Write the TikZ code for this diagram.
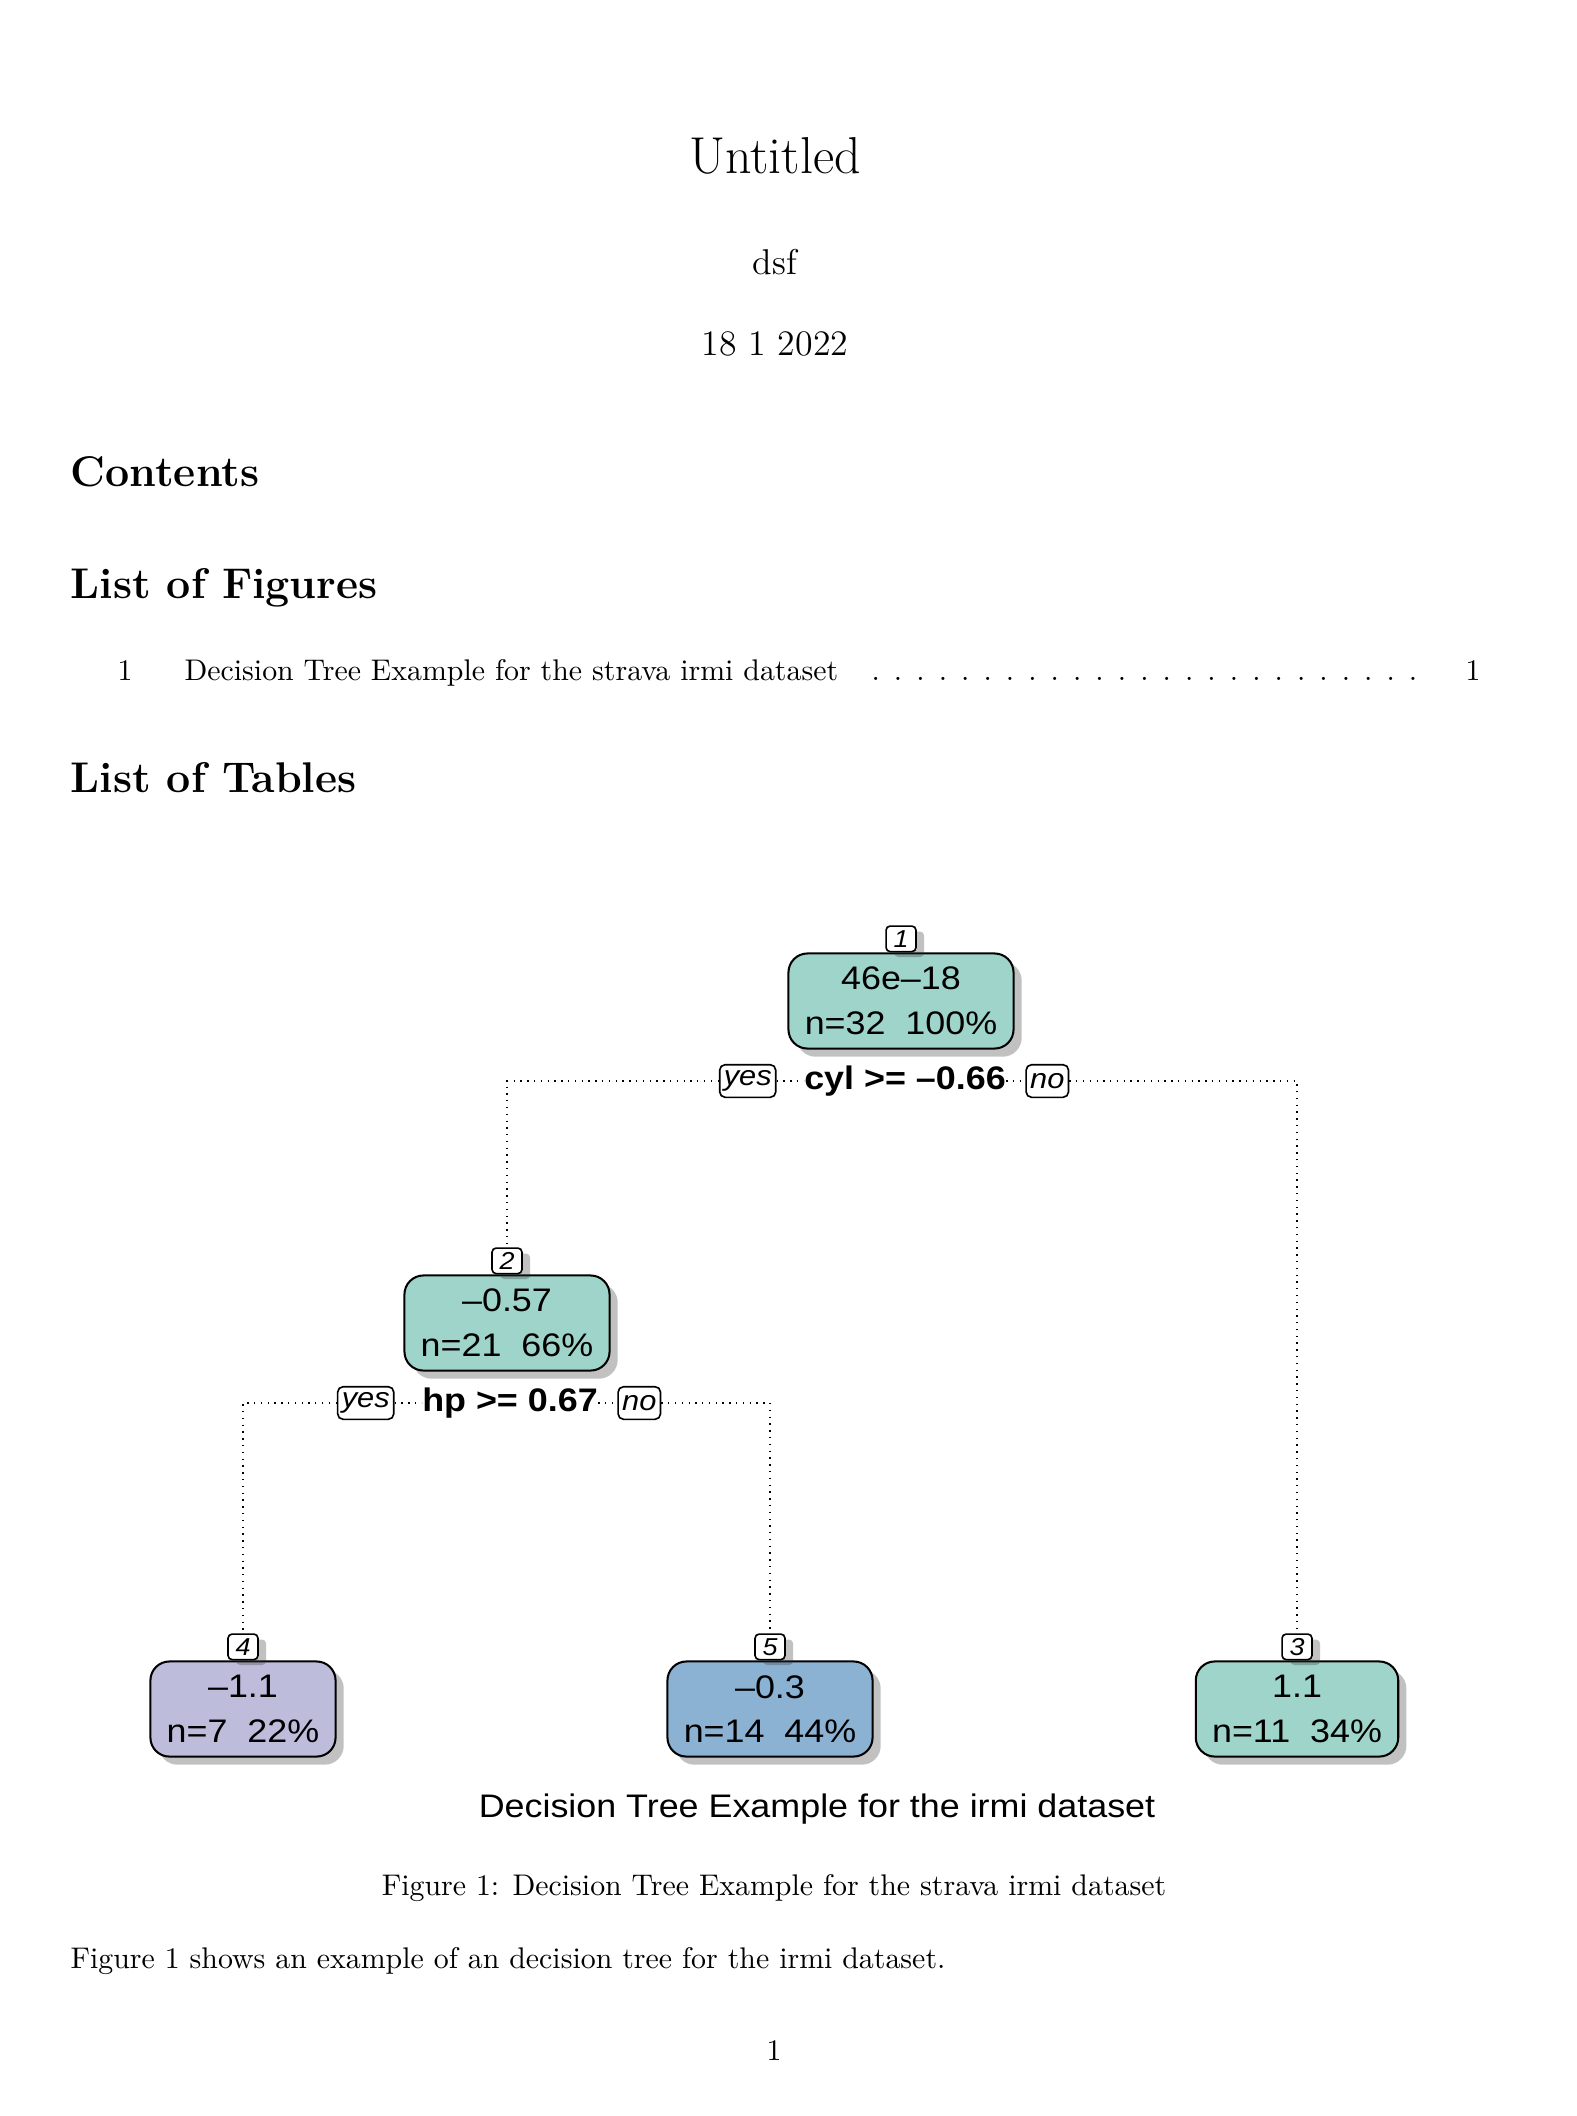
\documentclass[tikz,border=0pt]{standalone}
\usepackage{fontspec}
\newfontfamily\plotfont[FakeStretch=1.1]{Liberation Sans}
\usetikzlibrary{positioning,shadows}

\definecolor{leafteal}{HTML}{9FD4CA}
\definecolor{leaflilac}{HTML}{BDBCDA}
\definecolor{leafblue}{HTML}{8BB1D3}

\begin{document}
\begin{tikzpicture}[
        x=0.368pt,
        y=-0.368pt,
        pagetext/.style={inner sep=0pt, font=\fontsize{10.99}{13.6}\selectfont},
        heading/.style={inner sep=0pt, anchor=base west, font=\fontsize{15.8}{18}\selectfont\bfseries},
        treebox/.style={draw, line width=0.75pt, rounded corners=7pt, align=center,
            minimum height=35pt, inner xsep=6pt,
            font=\plotfont\fontsize{12}{16.4}\selectfont,
            drop shadow={shadow xshift=3pt, shadow yshift=-3pt, opacity=0.3, fill=black!80}},
        numbox/.style={draw, fill=white, line width=0.6pt, rounded corners=1.5pt,
            minimum width=11pt, minimum height=9.4pt, inner sep=1pt,
            font=\plotfont\itshape\fontsize{9}{9}\selectfont,
            drop shadow={shadow xshift=3pt, shadow yshift=-2pt, opacity=0.3, fill=black!80}},
        yesno/.style={draw, fill=white, line width=0.6pt, rounded corners=2pt,
            minimum height=12pt, inner xsep=1.5pt, inner ysep=1pt,
            font=\plotfont\itshape\fontsize{10.3}{10}\selectfont},
        split/.style={inner sep=0pt, font=\plotfont\bfseries\fontsize{12}{12}\selectfont},
        link/.style={dotted, line width=0.5pt}
    ]
        \useasboundingbox (0,0) rectangle (1576,2116);
        \fill[white] (0,0) rectangle (1576,2116);

        % title block
        \node[pagetext, anchor=base, font=\fontsize{19.1}{23}\selectfont] (doctitle) at (775,174) {Untitled};
        \node[pagetext, anchor=base, font=\fontsize{13.2}{16}\selectfont] (docauthor) at (775,274) {dsf};
        \node[pagetext, anchor=base, font=\fontsize{13.2}{16}\selectfont] (docdate) at (775,355) {18 1 2022};

        % lists
        \node[heading] (tochead) at (70,486) {Contents};
        \node[heading] (lofhead) at (70,598) {List of Figures};
        \node[pagetext, anchor=base west] (lofnum) at (117,680) {1};
        \node[pagetext, anchor=base west] (loftext) at (184,680) {Decision Tree Example for the strava irmi dataset};
        \node[pagetext, anchor=base west] (lofdots) at (864,680) {\hbox to 206pt{\leaders\hbox to 8.24pt{\hss.\hss}\hfill}};
        \node[pagetext, anchor=base east] (lofpage) at (1481,680) {1};
        \node[heading] (lothead) at (70,792) {List of Tables};

        % root and first split
        \node[treebox, fill=leafteal] (n1) at (901,1001) {46e–18\\n=32\ \ 100\%};
        \node[numbox, above=0pt of n1] (num1) {1};
        \node[split] (cond1) at (905,1081) {cyl >= –0.66};
        \node[yesno, left=10pt of cond1] (yes1) {yes};
        \node[yesno, right=7pt of cond1] (no1) {no};

        % second level
        \node[treebox, fill=leafteal] (n2) at (507,1323) {–0.57\\n=21\ \ 66\%};
        \node[numbox, above=0pt of n2] (num2) {2};
        \node[split] (cond2) at (510,1403) {hp >= 0.67};
        \node[yesno, left=10pt of cond2] (yes2) {yes};
        \node[yesno, right=7pt of cond2] (no2) {no};

        % leaves
        \node[treebox, fill=leaflilac] (n4) at (243,1709) {–1.1\\n=7\ \ 22\%};
        \node[numbox, above=0pt of n4] (num4) {4};
        \node[treebox, fill=leafblue] (n5) at (770,1709) {–0.3\\n=14\ \ 44\%};
        \node[numbox, above=0pt of n5] (num5) {5};
        \node[treebox, fill=leafteal] (n3) at (1297,1709) {1.1\\n=11\ \ 34\%};
        \node[numbox, above=0pt of n3] (num3) {3};

        \draw[link] (yes1) -- (cond1);
        \draw[link] (cond1) -- (no1);
        \draw[link] (yes1.west) -| (num2.north);
        \draw[link] (no1.east) -| (num3.north);
        \draw[link] (yes2) -- (cond2);
        \draw[link] (cond2) -- (no2);
        \draw[link] (yes2.west) -| (num4.north);
        \draw[link] (no2.east) -| (num5.north);

        \node[inner sep=0pt, anchor=base, font=\plotfont\fontsize{12}{13}\selectfont] (plottitle) at (817,1817) {Decision Tree Example for the irmi dataset};

        % caption and body
        \node[pagetext, anchor=base] (figcaption) at (774,1895) {Figure 1: Decision Tree Example for the strava irmi dataset};
        \node[pagetext, anchor=base west] (bodytext) at (70,1968) {Figure 1 shows an example of an decision tree for the irmi dataset.};
        \node[pagetext, anchor=base] (pagenum) at (774,2060) {1};
    \end{tikzpicture}
\end{document}
